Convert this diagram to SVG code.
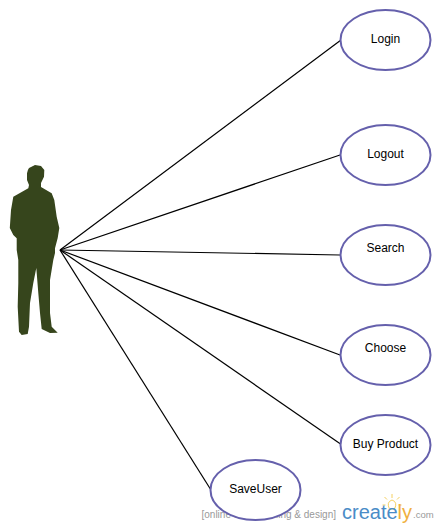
<svg xmlns="http://www.w3.org/2000/svg" width="440" height="530" viewBox="0 0 440 530">
<style>
.n{fill:#fff;stroke:#6560ac;stroke-width:2}
.t{font-family:"Liberation Sans",Arial,sans-serif;font-size:12px;fill:#000;text-anchor:middle}
.c line{stroke:#000;stroke-width:1.2}
.w{font-family:"Liberation Sans",Arial,sans-serif;font-size:10px;fill:#999}
.r{stroke:#f5d060;stroke-width:1;fill:none}
</style>
<rect width="440" height="530" fill="#fff"/>
<g id="actor"><path fill="#36451c" d="M27 173.300Q27.500 170 29 168L35 165L41 166L44.300 170L44 176.700L41 183L41 187L51.700 193.300L54.300 200L56.700 216.700L59.300 228L57.700 238L55 248.300L55 253L53.300 260L50 280L50 313L51.700 326.700L57.700 332.700L50 333L41.700 329L40 313L38.300 293L36.300 268L33.300 283L30 303L29 326.700L27.700 334L21.700 335L19 331.700L17.700 306.700L18.300 283L18.300 260L16.700 250L16.700 238.300L13.300 235L9.800 228L11 210L13.300 196.700L28.300 188.300L29 185L27 180Z"/></g>
<g id="watermark"><text class="w" x="201.500" y="518">[online diagramming &amp; design]</text>
<g class="r"><path d="M392 494V498M384.500 497L387 499.500M399.500 497L397 499.500M382.500 505H385.500M398.500 505H401.500"/><path d="M389.500 509Q386 502 392 500Q398 502 394.500 509Z"/></g>
<text x="342" y="519" font-family="Liberation Sans,Arial,sans-serif" font-size="20" fill="#4a8cc7">create<tspan fill="#f0b040">ly</tspan></text>
<text class="w" x="413" y="518" style="font-size:9.500px">.com</text></g>
<g class="c" id="connectors">
<line x1="60" y1="250" x2="341" y2="40"/>
<line x1="60" y1="250" x2="340" y2="155"/>
<line x1="60" y1="250" x2="340" y2="255"/>
<line x1="60" y1="250" x2="340" y2="355"/>
<line x1="60" y1="250" x2="342" y2="445"/>
<line x1="60" y1="250" x2="211" y2="490"/>
</g>
<g id="login"><ellipse class="n" cx="385.500" cy="40" rx="45" ry="30"/><text class="t" x="385.500" y="43">Login</text></g>
<g id="logout"><ellipse class="n" cx="385.500" cy="155" rx="45" ry="30"/><text class="t" x="385.500" y="158">Logout</text></g>
<g id="search"><ellipse class="n" cx="385.500" cy="255" rx="45" ry="30"/><text class="t" x="385.500" y="252">Search</text></g>
<g id="choose"><ellipse class="n" cx="385.500" cy="355" rx="45" ry="30"/><text class="t" x="385.500" y="352">Choose</text></g>
<g id="buy"><ellipse class="n" cx="385.500" cy="445" rx="45" ry="30"/><text class="t" x="385.500" y="448">Buy Product</text></g>
<g id="saveuser"><ellipse class="n" cx="255.500" cy="490" rx="45" ry="30"/><text class="t" x="255.500" y="493">SaveUser</text></g>
</svg>
